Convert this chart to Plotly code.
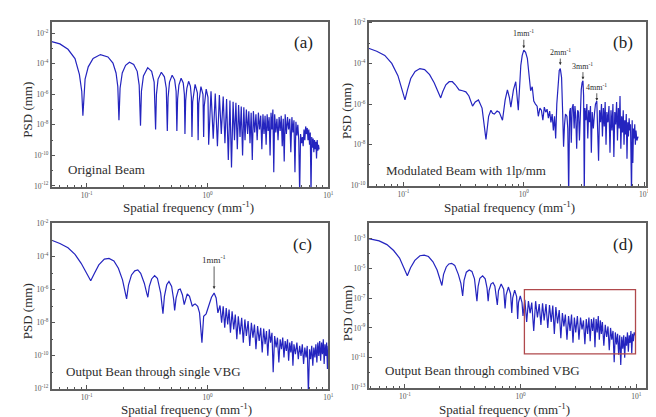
import math
import plotly.graph_objects as go

# ---------------- data ----------------
# (a) Original Beam
freq_a = [0.0513, 0.06, 0.07, 0.08, 0.087, 0.091, 0.093, 0.097, 0.103, 0.113, 0.13, 0.15, 0.165, 0.175, 0.181, 0.185,
          0.189, 0.197, 0.21, 0.226, 0.245, 0.262, 0.272, 0.279, 0.284, 0.295, 0.32, 0.345, 0.362, 0.372,
          0.378, 0.39, 0.415, 0.44, 0.456, 0.465, 0.472, 0.485, 0.51, 0.535, 0.55, 0.558,
          0.566, 0.58, 0.605, 0.63, 0.644, 0.651, 0.66, 0.675, 0.698, 0.722, 0.736, 0.744,
          0.754, 0.79, 0.825, 0.837, 0.847, 0.883, 0.918, 0.93, 0.94, 0.976, 1.01, 1.023,
          1.07, 1.116, 1.16, 1.209, 1.255, 1.302, 1.35, 1.395, 1.44, 1.488, 1.535, 1.581, 1.63, 1.674,
          1.72, 1.767, 1.81, 1.86, 1.905, 1.953, 2.0, 2.046,
          2.1, 2.15, 2.2, 2.25, 2.3, 2.35, 2.4, 2.46, 2.52, 2.58, 2.64, 2.7, 2.76, 2.82, 2.88, 2.94,
          3.0, 3.06, 3.12, 3.18, 3.24, 3.3, 3.36, 3.42, 3.48, 3.54, 3.6, 3.68, 3.76, 3.84, 3.92,
          4.0, 4.08, 4.16, 4.24, 4.32, 4.4, 4.5, 4.6, 4.7, 4.8, 4.9, 5.0, 5.1, 5.2, 5.3, 5.4, 5.5,
          5.6, 5.7, 5.8, 5.9, 6.0, 6.1, 6.2, 6.3, 6.4, 6.5, 6.6, 6.7, 6.8, 6.9, 7.0, 7.1, 7.2, 7.3,
          7.4, 7.5, 7.6, 7.7, 7.8, 7.9, 8.0, 8.1, 8.2, 8.3, 8.4]
psd_a = [2.8e-3, 2.0e-3, 8.9e-4, 2.2e-4, 2.0e-5, 1.6e-6, 4.0e-8, 1e-5, 6.3e-5, 2.2e-4, 4.0e-4, 2.8e-4, 1.12e-4, 2.5e-5, 3.2e-6, 2.0e-8,
         2.5e-6, 2.5e-5, 7.9e-5, 1.26e-4, 8.9e-5, 3.2e-5, 4.0e-6, 8.9e-9, 1.6e-6, 1.6e-5, 5.6e-5, 3.2e-5, 6.3e-6, 5.0e-9,
         1e-6, 1e-5, 2.8e-5, 1.4e-5, 2.5e-6, 4.0e-9, 6.3e-7, 6.3e-6, 1.8e-5, 8.9e-6, 1.6e-6, 4.0e-9,
         5.0e-7, 4.0e-6, 1.12e-5, 5.6e-6, 1e-6, 2.5e-9, 4.0e-7, 2.5e-6, 7.1e-6, 3.5e-6, 6.3e-7, 1.6e-9,
         3.2e-7, 4.5e-6, 1.26e-6, 1e-9, 2.5e-7, 3.2e-6, 1e-6, 1.6e-9, 1.6e-7, 2.2e-6, 6.3e-7, 5.0e-10,
         1.6e-6, 1.26e-9, 1.12e-6, 4.0e-10, 8.9e-7, 2.5e-9, 7.1e-7, 6.3e-10, 5.0e-7, 5.0e-11, 4.0e-7, 1.6e-11, 3.2e-7, 1e-9,
         2.8e-7, 2.5e-10, 2.0e-7, 1.6e-9, 1.6e-7, 1e-10, 1.4e-7, 1e-9,
         1e-7, 2.5e-9, 7.9e-8, 6.3e-10, 6.3e-8, 5.0e-11, 7.9e-8, 3.2e-9, 5.0e-8, 1e-9, 6.3e-8, 5.0e-9, 4.0e-8, 2.5e-10, 5.0e-8, 2.5e-9,
         4.0e-8, 5.0e-10, 5.0e-8, 4.0e-9, 3.2e-8, 1e-10, 6.3e-8, 5.0e-9, 1e-7, 7.9e-12, 5.0e-8, 3.2e-9, 2.5e-8, 1e-9, 3.2e-8,
         4.0e-9, 4.0e-8, 4.0e-10, 2.5e-8, 4.0e-11, 5.0e-8, 2.5e-9, 3.2e-8, 5.0e-9, 2.5e-8, 1.6e-10, 3.2e-8, 3.2e-9, 2.0e-8, 7.9e-12, 1.6e-8, 2.0e-9,
         1e-8, 1e-9, 3.2e-13, 2.5e-9, 6.3e-10, 1.6e-9, 4.0e-10, 5.0e-9, 1e-9, 7.9e-9, 2.5e-9, 6.3e-9, 1e-9, 5.0e-9, 5.0e-10, 3.2e-9, 3.2e-13, 1.6e-9,
         3.2e-10, 1.26e-9, 1.6e-10, 1e-9, 2.5e-10, 7.9e-10, 6.3e-11, 1e-9, 2.0e-10, 5.0e-10, 2.5e-10]

# (b) Modulated Beam with 1lp/mm
freq_b = [0.0513, 0.06, 0.07, 0.08, 0.09, 0.097, 0.103, 0.108, 0.115, 0.125, 0.137, 0.15, 0.165, 0.18, 0.195, 0.204,
          0.212, 0.225, 0.24, 0.255, 0.27, 0.29, 0.31, 0.33, 0.35, 0.375, 0.395, 0.42, 0.45, 0.485,
          0.51, 0.533, 0.55, 0.569, 0.6, 0.625, 0.665, 0.7, 0.731, 0.76, 0.78, 0.82, 0.857, 0.88, 0.9,
          0.944, 0.97, 1.0, 1.035, 1.07, 1.12, 1.14, 1.175, 1.21, 1.25, 1.29, 1.32, 1.36, 1.4, 1.44,
          1.48, 1.52, 1.56, 1.6, 1.64, 1.68, 1.72, 1.76, 1.8, 1.84, 1.88, 1.93, 1.97, 2.01, 2.06, 2.1,
          2.14, 2.18, 2.22, 2.28, 2.32, 2.36, 2.4, 2.44, 2.48, 2.52, 2.57, 2.62, 2.66, 2.7, 2.75, 2.8,
          2.85, 2.9, 2.95, 3.0, 3.05, 3.1, 3.14, 3.18, 3.22, 3.28, 3.34, 3.4, 3.46, 3.52, 3.58, 3.64,
          3.7, 3.78, 3.86, 3.94, 4.04, 4.1, 4.18, 4.26, 4.34, 4.42, 4.5, 4.58, 4.66, 4.74, 4.82, 4.9,
          5.0, 5.1, 5.2, 5.3, 5.4, 5.5, 5.6, 5.7, 5.8, 5.9, 6.0, 6.1, 6.2, 6.3, 6.4, 6.5, 6.6, 6.7,
          6.8, 6.9, 7.0, 7.1, 7.2, 7.3, 7.4, 7.5, 7.6, 7.7, 7.85, 7.95, 8.05, 8.15, 8.25, 8.35, 8.45,
          8.55, 8.7, 8.9]
psd_b = [5.6e-4, 4.0e-4, 2.5e-4, 1e-4, 2.5e-5, 6.3e-6, 1.6e-6, 5.0e-6, 1.8e-5, 4.0e-5, 5.6e-5, 5.0e-5, 2.8e-5, 1.12e-5, 4.0e-6, 2.0e-6,
         4.0e-6, 8.9e-6, 1.26e-5, 1.26e-5, 8.9e-6, 5.0e-6, 4.5e-6, 4.0e-6, 2.5e-6, 7.9e-7, 1.26e-6, 1.6e-6, 6.3e-7, 1.8e-8,
         2.5e-7, 5.0e-7, 3.5e-7, 3.2e-7, 4.5e-7, 4.0e-7, 1.6e-7, 1.6e-6, 5.0e-6, 2.0e-6, 7.1e-7, 5.0e-6, 1.26e-5, 3.2e-6, 5.0e-7,
         7.9e-5, 2.5e-4, 4.5e-4, 3.5e-4, 1.8e-4, 2.0e-5, 4.5e-6, 7.1e-6, 1.4e-6, 1e-6, 7.9e-7, 2.5e-7, 6.3e-7, 5.0e-7, 1.6e-7,
         7.1e-7, 4.0e-7, 5.6e-7, 2.0e-7, 4.5e-7, 1.26e-7, 3.2e-7, 5.0e-8, 2.5e-7, 2.0e-8, 1e-6, 1.26e-5, 4.5e-5, 5.6e-5, 2.0e-5, 5.0e-7,
         7.9e-9, 1e-7, 3.2e-7, 2.5e-7, 6.3e-8, 3.2e-11, 4.0e-7, 6.3e-7, 1.26e-8, 6.3e-7, 1e-6, 6.3e-8, 7.9e-7, 2.5e-7, 6.3e-9, 5.0e-7,
         4.0e-7, 1.6e-8, 2.0e-6, 5.0e-6, 1.12e-5, 1.4e-5, 2.5e-6, 3.2e-11, 6.3e-7, 1.6e-7, 1e-6, 2.0e-8, 5.0e-7, 1.26e-7, 7.9e-7, 4.0e-9,
         4.0e-7, 6.3e-8, 3.2e-7, 1e-6, 1.4e-6, 1e-7, 1.6e-9, 5.0e-7, 1.26e-7, 1e-6, 2.5e-8, 6.3e-7, 7.9e-8, 1.26e-6, 1e-8, 4.0e-7,
         1.26e-7, 7.9e-7, 4.0e-9, 5.0e-7, 5.0e-8, 1e-6, 2.5e-9, 4.0e-7, 1e-7, 1.26e-6, 1.6e-8, 6.3e-7, 6.3e-8, 2.5e-6, 6.3e-9, 2.5e-7, 4.0e-8, 5.0e-7,
         1e-8, 1.6e-7, 3.2e-8, 3.2e-7, 2.0e-9, 1.26e-7, 2.5e-8, 2.0e-7, 5.0e-8, 1e-7, 3.2e-11, 1.6e-7, 1.26e-9, 6.3e-8, 2.0e-8, 1e-7, 1e-8,
         5.0e-8, 1.6e-8, 2.5e-8]

# (c) Output beam through single VBG
freq_c = [0.0513, 0.06, 0.07, 0.08, 0.09, 0.1, 0.108, 0.116, 0.126, 0.14, 0.153, 0.168, 0.183, 0.198, 0.207, 0.214,
          0.222, 0.235, 0.25, 0.265, 0.28, 0.3, 0.314, 0.321, 0.33, 0.345, 0.365, 0.385, 0.41, 0.428,
          0.44, 0.46, 0.48, 0.505, 0.525, 0.535, 0.55, 0.575, 0.595, 0.62, 0.642, 0.655, 0.68, 0.71, 0.749,
          0.77, 0.79, 0.83, 0.86, 0.9, 0.93, 0.975, 1.03, 1.08, 1.135, 1.18, 1.22, 1.27, 1.31, 1.35,
          1.39, 1.43, 1.47, 1.51, 1.55, 1.6, 1.65, 1.7, 1.75, 1.8, 1.86, 1.92, 1.98, 2.04, 2.1, 2.17,
          2.24, 2.31, 2.38, 2.45, 2.52, 2.6, 2.68, 2.76, 2.84, 2.92, 3.0, 3.08, 3.16, 3.25, 3.33, 3.42,
          3.5, 3.6, 3.7, 3.8, 3.9, 4.0, 4.1, 4.2, 4.3, 4.4, 4.5, 4.6, 4.7, 4.8, 4.9, 5.0, 5.1, 5.2,
          5.35, 5.5, 5.65, 5.8, 5.95, 6.1, 6.25, 6.4, 6.55, 6.7, 6.85, 7.0, 7.15, 7.3, 7.45, 7.6, 7.75,
          7.9, 8.05, 8.2, 8.35, 8.5, 8.65, 8.8, 8.95, 9.1, 9.25, 9.4, 9.55, 9.7, 9.85, 10.0]
psd_c = [1e-3, 6.3e-4, 3.5e-4, 1.4e-4, 4.0e-5, 1e-5, 3.5e-6, 1e-5, 3.2e-5, 7.1e-5, 7.9e-5, 5.6e-5, 2.0e-5, 4.0e-6, 1e-6, 2.8e-7,
         2.0e-6, 7.9e-6, 1.4e-5, 1.6e-5, 1e-5, 2.5e-6, 6.3e-7, 3.5e-7, 1.6e-6, 4.5e-6, 7.1e-6, 5.0e-6, 6.3e-7, 3.5e-8,
         4.0e-7, 2.0e-6, 3.2e-6, 1.6e-6, 2.5e-7, 5.6e-8, 3.2e-7, 1e-6, 1.12e-6, 5.0e-7, 1.26e-7, 2.5e-7, 5.6e-7, 4.0e-7, 1e-7,
         1.26e-7, 1.4e-7, 1e-7, 4.0e-8, 6.3e-10, 2.5e-8, 3.5e-8, 1.12e-7, 3.5e-7, 6.3e-7, 3.2e-7, 4.0e-8, 1.12e-7, 1e-8, 1e-7,
         5.0e-9, 7.9e-8, 7.9e-9, 6.3e-8, 2.5e-9, 5.0e-8, 4.0e-9, 3.2e-8, 1e-9, 2.5e-8, 2.0e-9, 2.0e-8, 6.3e-10, 1.6e-8, 1.6e-9, 1.26e-8,
         4.0e-10, 1e-8, 1.26e-9, 7.9e-9, 2.5e-10, 6.3e-9, 7.9e-10, 5.0e-9, 1.6e-10, 4.5e-9, 5.0e-10, 3.2e-9, 1e-10, 4.0e-9, 6.3e-10, 2.5e-9,
         1e-11, 1.6e-9, 3.2e-10, 1.26e-9, 4.0e-11, 1e-9, 2.5e-10, 1.26e-9, 7.9e-11, 7.9e-10, 2.0e-10, 1e-9, 5.0e-11, 6.3e-10, 1.6e-10, 7.9e-10, 2.5e-11, 5.0e-10,
         1.26e-10, 6.3e-10, 6.3e-11, 4.0e-10, 1e-10, 5.0e-10, 3.2e-11, 3.2e-10, 7.9e-11, 4.0e-10, 5.0e-13, 2.5e-10, 6.3e-11, 4.0e-10, 2.5e-11, 3.2e-10, 7.9e-11,
         5.0e-10, 4.0e-11, 6.3e-10, 1e-10, 7.9e-10, 5.0e-11, 6.3e-10, 1.26e-10, 1e-9, 3.2e-11, 5.0e-10, 1e-10, 6.3e-10, 1.6e-11, 4.0e-10]

# (d) Output beam through combined VBG
freq_d = [0.0485, 0.06, 0.07, 0.08, 0.09, 0.098, 0.105, 0.112, 0.122, 0.135, 0.147, 0.16, 0.175, 0.19, 0.2, 0.209,
          0.216, 0.228, 0.24, 0.254, 0.27, 0.29, 0.305, 0.316, 0.325, 0.34, 0.36, 0.38, 0.4, 0.42,
          0.43, 0.445, 0.47, 0.495, 0.513, 0.525, 0.535, 0.555, 0.578, 0.6, 0.63, 0.645, 0.68, 0.715, 0.735,
          0.75, 0.785, 0.82, 0.84, 0.855, 0.89, 0.925, 0.945, 0.96, 0.995, 1.03, 1.05,
          1.09, 1.13, 1.17, 1.21, 1.25, 1.3, 1.35, 1.4, 1.45, 1.5, 1.55, 1.6, 1.66, 1.72, 1.78, 1.84,
          1.9, 1.96, 2.02, 2.09, 2.16, 2.23, 2.3, 2.37, 2.44, 2.52, 2.6, 2.68, 2.76, 2.84, 2.92, 3.0,
          3.1, 3.2, 3.3, 3.4, 3.5, 3.6, 3.7, 3.8, 3.9, 4.0, 4.1, 4.2, 4.3, 4.4, 4.5, 4.6, 4.7, 4.8,
          4.9, 5.0, 5.1, 5.25, 5.4, 5.55, 5.7, 5.85, 6.0, 6.15, 6.3, 6.45, 6.6, 6.75, 6.9, 7.05, 7.2,
          7.35, 7.5, 7.65, 7.8, 7.95, 8.1, 8.25, 8.4, 8.55, 8.7, 8.85, 9.0, 9.15, 9.3, 9.45, 9.6, 9.8]
psd_d = [1e-3, 7.1e-4, 4.0e-4, 1.6e-4, 5.0e-5, 1.26e-5, 3.2e-6, 1.12e-5, 3.5e-5, 7.1e-5, 7.9e-5, 6.3e-5, 2.8e-5, 7.9e-6, 2.5e-6, 7.1e-7,
         4.0e-6, 1.26e-5, 2.0e-5, 2.2e-5, 1.6e-5, 4.0e-6, 1e-6, 1.4e-7, 1.6e-6, 5.6e-6, 7.9e-6, 6.3e-6, 2.0e-6, 6.3e-8,
         6.3e-7, 2.2e-6, 3.2e-6, 2.0e-6, 5.0e-7, 6.3e-8, 3.2e-7, 8.9e-7, 1.12e-6, 6.3e-7, 3.5e-8, 3.2e-7, 8.9e-7, 4.0e-7, 2.0e-8,
         1.6e-7, 5.6e-7, 2.0e-7, 1e-8, 1e-7, 3.5e-7, 1.26e-7, 4.0e-9, 5.0e-8, 1.4e-7, 5.0e-8, 6.3e-9,
         7.9e-8, 2.5e-9, 6.3e-8, 1e-8, 5.0e-8, 6.3e-10, 6.3e-8, 5.0e-9, 4.0e-8, 1.6e-9, 4.5e-8, 3.2e-9, 4.0e-8, 1e-9, 3.5e-8, 2.5e-9,
         3.2e-8, 4.0e-10, 2.5e-8, 2.0e-9, 1.6e-8, 2.0e-10, 1e-8, 1.26e-9, 7.9e-9, 1.6e-10, 6.3e-9, 6.3e-10, 7.9e-9, 1e-10, 5.0e-9, 5.0e-10,
         6.3e-9, 1.6e-10, 5.0e-9, 7.9e-10, 3.2e-9, 7.9e-11, 4.0e-9, 4.0e-10, 5.0e-9, 1.26e-10, 4.0e-9, 6.3e-10, 5.0e-9, 5.0e-11, 4.0e-9, 5.0e-10, 6.3e-9, 1.6e-10,
         3.2e-9, 4.0e-10, 2.5e-9, 6.3e-11, 1.6e-9, 2.5e-10, 1.26e-9, 3.2e-11, 1e-9, 1.6e-10, 6.3e-10, 5.0e-12, 5.0e-10, 7.9e-11, 4.0e-10, 1.6e-11, 3.2e-10,
         3.2e-12, 2.5e-10, 4.0e-11, 3.2e-10, 1e-11, 2.5e-10, 6.3e-11, 5.0e-10, 2.5e-11, 3.2e-10, 1e-10, 6.3e-10, 2.0e-11, 4.0e-10, 1.26e-10, 5.0e-10, 3.2e-10]

# peak markers (arrow tips)
mark_b_freq = [1.0, 2.01, 3.1, 4.04]
mark_b_psd = [5.6e-4, 8.3e-5, 1.6e-5, 1.45e-6]
mark_b_text = ["1mm<sup>-1</sup>", "2mm<sup>-1</sup>", "3mm<sup>-1</sup>", "4mm<sup>-1</sup>"]
mark_c_freq = [1.135]
mark_c_psd = [1.12e-6]
mark_c_text = ["1mm<sup>-1</sup>"]

# highlighted region in (d)
box_d_freq = [1.08, 9.86]
box_d_psd = [1.8e-11, 3.8e-7]

panel_labels = ["(a)", "(b)", "(c)", "(d)"]
panel_titles = ["Original Beam", "Modulated Beam with 1lp/mm",
                "Output Bean through single VBG", "Output Bean through combined VBG"]

# ---------------- figure ----------------
W, H = 656, 417
SERIF = "Liberation Serif, Times New Roman, serif"
LINE = "#2424bf"
FRAME = "#5f5f5f"
TICKC = "#555555"


def px(x):
    return x / W


def py(y):
    return 1 - y / H


fig = go.Figure()
series = [(freq_a, psd_a), (freq_b, psd_b), (freq_c, psd_c), (freq_d, psd_d)]
for i, (f, p) in enumerate(series):
    sfx = "" if i == 0 else str(i + 1)
    fig.add_trace(go.Scatter(x=f, y=p, mode="lines", line=dict(color=LINE, width=1.2),
                             xaxis="x" + sfx, yaxis="y" + sfx, showlegend=False, hoverinfo="skip"))

x_dom = [[44, 322.7], [363.3, 643.0], [44, 322.7], [363.3, 643.3]]
y_dom = [[9.3, 178], [9, 176.7], [215, 384.5], [215, 383.3]]
x_rng = [[-1.29, 1.0], [-1.29, 1.016], [-1.29, 1.0], [-1.314, 1.088]]
y_rng = [[-12.08, -1.27], [-10.03, -1.95], [-12.02, -1.98], [-13.04, -1.97]]
y_major = [list(range(-2, -13, -2)), list(range(-2, -11, -2)), list(range(-2, -13, -2)), list(range(-3, -14, -2))]

x_minor = [k * 10.0 ** d for d in (-2, -1, 0, 1) for k in range(2, 10)]
layout = {}
for i in range(4):
    sfx = "" if i == 0 else str(i + 1)
    xmaj = [-1, 0, 1]
    layout["xaxis" + sfx] = dict(
        type="log", range=x_rng[i], domain=[px(x_dom[i][0]), px(x_dom[i][1])],
        anchor="y" + sfx, showgrid=False, zeroline=False,
        showline=True, linecolor=FRAME, linewidth=1.5, mirror=True,
        ticks="inside", ticklen=4, tickcolor=TICKC, tickwidth=1,
        tickvals=[10.0 ** e for e in xmaj], ticktext=["10<sup>%d</sup>" % e for e in xmaj],
        tickfont=dict(family=SERIF, size=7.5, color=TICKC),
        minor=dict(tickvals=x_minor, ticks="inside", ticklen=2, tickcolor=TICKC, showgrid=False),
    )
    ymaj = y_major[i]
    yminor = [10.0 ** e for e in range(-1, -15, -1) if e not in ymaj]
    layout["yaxis" + sfx] = dict(
        type="log", range=y_rng[i], domain=[py(y_dom[i][1]), py(y_dom[i][0])],
        anchor="x" + sfx, showgrid=False, zeroline=False,
        showline=True, linecolor=FRAME, linewidth=1.5, mirror=True,
        ticks="inside", ticklen=4, tickcolor=TICKC, tickwidth=1,
        tickvals=[10.0 ** e for e in ymaj], ticktext=["10<sup>%d</sup>" % e for e in ymaj],
        tickfont=dict(family=SERIF, size=7.5, color=TICKC),
        minor=dict(tickvals=yminor, ticks="inside", ticklen=2, tickcolor=TICKC, showgrid=False),
    )

ann = []
TXT = "#2e2e2e"
# axis titles
xt_pos = [(182, 198), (505, 198), (180, 404.5), (500, 404.5)]
yt_pos = [(20, 99), (341.7, 100), (20, 305), (341.7, 306.7)]
for i in range(4):
    ann.append(dict(x=px(xt_pos[i][0]), y=py(xt_pos[i][1]), xref="paper", yref="paper",
                    text="Spatial frequency (mm<sup>-1</sup>)", showarrow=False,
                    font=dict(family=SERIF, size=13, color=TXT), xanchor="center", yanchor="middle"))
    ann.append(dict(x=px(yt_pos[i][0]), y=py(yt_pos[i][1]), xref="paper", yref="paper",
                    text="PSD (mm)", showarrow=False, textangle=-90,
                    font=dict(family=SERIF, size=13, color=TXT), xanchor="center", yanchor="middle"))
# panel letters
lab_pos = [(298, 30), (620, 30), (297, 237), (620, 237)]
for i in range(4):
    ann.append(dict(x=px(lab_pos[i][0]), y=py(lab_pos[i][1]), xref="paper", yref="paper",
                    text=panel_labels[i], showarrow=False,
                    font=dict(family=SERIF, size=17, color="#222"), xanchor="center", yanchor="middle"))
# inner titles
tt_pos = [(99, 160), (462, 161), (146.7, 366.7), (478, 365.7)]
for i in range(4):
    ann.append(dict(x=px(tt_pos[i][0]), y=py(tt_pos[i][1]), xref="paper", yref="paper",
                    text=panel_titles[i], showarrow=False,
                    font=dict(family=SERIF, size=13, color=TXT), xanchor="center", yanchor="middle"))
# peak arrows
ay_b = [-15, -13, -14, -14]
for f, p, t, ay in zip(mark_b_freq, mark_b_psd, mark_b_text, ay_b):
    ann.append(dict(x=math.log10(f), y=math.log10(p), xref="x2", yref="y2", text=t,
                    showarrow=True, ax=0, ay=ay, arrowhead=2, arrowsize=0.7, arrowwidth=0.8,
                    arrowcolor="#333", font=dict(family=SERIF, size=8, color=TXT)))
for f, p, t in zip(mark_c_freq, mark_c_psd, mark_c_text):
    ann.append(dict(x=math.log10(f), y=math.log10(p), xref="x3", yref="y3", text=t,
                    showarrow=True, ax=0, ay=-30, arrowhead=2, arrowsize=0.7, arrowwidth=0.8,
                    arrowcolor="#333", font=dict(family=SERIF, size=9, color=TXT)))

shapes = [dict(type="rect", xref="x4", yref="y4",
               x0=box_d_freq[0], x1=box_d_freq[1], y0=box_d_psd[0], y1=box_d_psd[1],
               line=dict(color="#b0494c", width=1.3), fillcolor="rgba(0,0,0,0)")]

fig.update_layout(width=W, height=H, margin=dict(l=0, r=0, t=0, b=0),
                  paper_bgcolor="white", plot_bgcolor="white",
                  annotations=ann, shapes=shapes, showlegend=False, **layout)

fig.write_html("out.html")
